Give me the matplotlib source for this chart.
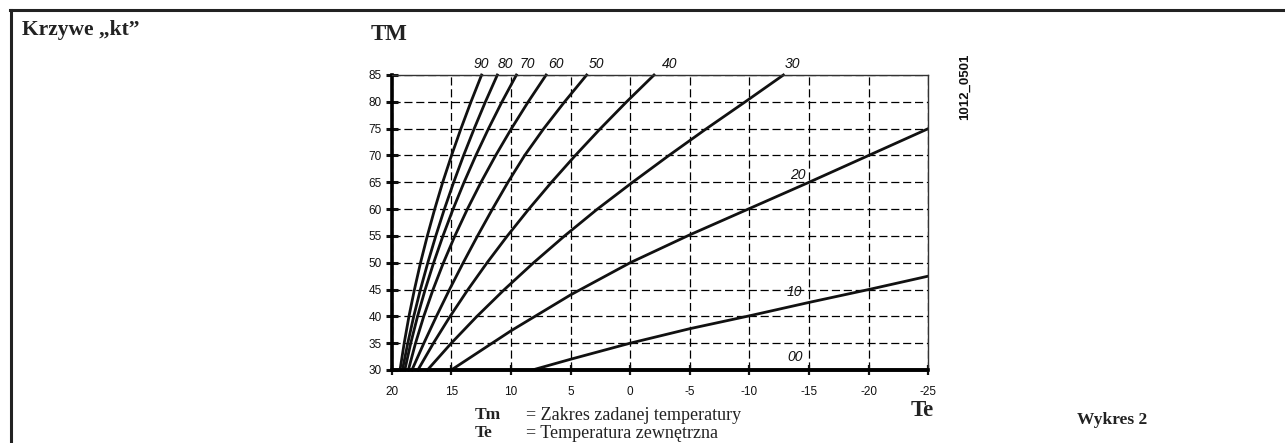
import matplotlib
matplotlib.use("Agg")
import matplotlib.pyplot as plt

# ---- data (Te, Tm) ----
kt_labels = ["00", "10", "20", "30", "40", "50", "60", "70", "80", "90"]
tm_levels = [30, 35, 40, 45, 50, 55, 60, 65, 70, 75, 80, 85]

te_00 = [20, -25]
tm_00 = [30, 30]

te_10 = [8.2, 5, 0, -5, -10, -15, -20, -25]
tm_10 = [30, 32.0, 35.0, 37.7, 40.1, 42.6, 45.0, 47.5]

te_20 = [15, 10, 5, 0, -5, -10, -15, -20, -25]
tm_20 = [30, 37.3, 44.0, 50.0, 55.2, 60.1, 65.0, 70.0, 75.0]

te_30 = [17.0, 15.0, 12.85, 10.55, 8.1, 5.5, 2.75, -0.2, -3.25, -6.4, -9.65, -12.85]
te_40 = [17.8, 16.5, 15.1, 13.6, 12.0, 10.3, 8.5, 6.6, 4.6, 2.5, 0.3, -2.0]
te_50 = [18.3, 17.3, 16.25, 15.15, 14.0, 12.8, 11.55, 10.25, 8.85, 7.25, 5.5, 3.65]
te_60 = [18.6, 18.0, 17.31, 16.53, 15.66, 14.70, 13.65, 12.51, 11.28, 9.96, 8.55, 7.05]
te_70 = [18.9, 18.4, 17.83, 17.19, 16.48, 15.70, 14.85, 13.93, 12.94, 11.88, 10.75, 9.54]
te_80 = [19.1, 18.65, 18.15, 17.59, 16.97, 16.30, 15.58, 14.80, 13.97, 13.08, 12.14, 11.14]
te_90 = [19.3, 18.95, 18.55, 18.09, 17.58, 17.01, 16.39, 15.72, 14.98, 14.19, 13.35, 12.46]

# label anchor positions (Te, Tm)
lab_te = [-13.8, -13.8, -14.1, -13.6, -3.3, 2.8, 6.25, 8.6, 10.45, 12.46]
lab_tm = [32.4, 44.6, 66.4, 87.1, 87.1, 87.1, 87.1, 87.1, 87.1, 87.1]

x_ticks = [20, 15, 10, 5, 0, -5, -10, -15, -20, -25]
y_ticks = [30, 35, 40, 45, 50, 55, 60, 65, 70, 75, 80, 85]

# ---- figure ----
fig = plt.figure(figsize=(12.85, 4.43), dpi=100)
ax = fig.add_axes([0.3048, 0.1648, 0.4176, 0.6659])

ax.set_xlim(20, -25)
ax.set_ylim(30, 85)
ax.set_xticks(x_ticks)
ax.set_yticks(y_ticks)
ax.set_xticklabels([str(v) for v in x_ticks], fontsize=8.5, family="Liberation Sans")
ax.set_yticklabels([str(v) for v in y_ticks], fontsize=8.5, family="Liberation Sans")

ax.grid(True, linestyle=(0, (6.5, 3)), color="black", linewidth=0.9)
ax.set_axisbelow(True)

lw = 2.0
ax.plot(te_00, tm_00, color="#111111", lw=2.6, solid_capstyle="butt", clip_on=False)
ax.plot(te_10, tm_10, color="#111111", lw=lw)
ax.plot(te_20, tm_20, color="#111111", lw=lw)
for te in (te_30, te_40, te_50, te_60, te_70, te_80, te_90):
    ax.plot(te, tm_levels, color="#111111", lw=lw, clip_on=False)

for lab, x, y in zip(kt_labels, lab_te, lab_tm):
    ax.text(x, y, lab, ha="center", va="center", fontsize=10, style="italic",
            family="Liberation Sans", color="#111111", clip_on=False)

for side in ("top", "right"):
    ax.spines[side].set_linewidth(1.0)
    ax.spines[side].set_color("#333333")
ax.spines["left"].set_linewidth(2.6)
ax.spines["bottom"].set_linewidth(2.6)
ax.tick_params(axis="y", direction="inout", length=8, width=2.2, pad=3, colors="#111111")
ax.tick_params(axis="x", direction="inout", length=7, width=1.6, pad=8, colors="#111111")

# ---- texts ----
serif = "Liberation Serif"
fig.text(22 / 1285, 1 - 30 / 443, "Krzywe „kt”", fontsize=15.5, fontweight="bold",
         family=serif, ha="left", va="center", color="#222222")
fig.text(371 / 1285, 1 - 34 / 443, "TM", fontsize=16.5, fontweight="bold",
         family=serif, ha="left", va="center", color="#222222")
fig.text(911 / 1285, 1 - 411 / 443, "Te", fontsize=16.5, fontweight="bold",
         family=serif, ha="left", va="center", color="#222222")
fig.text(475 / 1285, 1 - 415 / 443, "Tm", fontsize=12.5, fontweight="bold",
         family=serif, ha="left", va="center", color="#222222")
fig.text(526 / 1285, 1 - 415 / 443, "= Zakres zadanej temperatury", fontsize=13,
         family=serif, ha="left", va="center", color="#222222")
fig.text(475 / 1285, 1 - 433 / 443, "Te", fontsize=12.5, fontweight="bold",
         family=serif, ha="left", va="center", color="#222222")
fig.text(526 / 1285, 1 - 433 / 443, "= Temperatura zewnętrzna", fontsize=13,
         family=serif, ha="left", va="center", color="#222222")
fig.text(1112 / 1285, 1 - 420 / 443, "Wykres 2", fontsize=12.5, fontweight="bold",
         family=serif, ha="center", va="center", color="#222222")
fig.text(965 / 1285, 1 - 87 / 443, "1012_0501", fontsize=9.5, fontweight="bold",
         family="Liberation Sans", rotation=90, ha="center", va="center", color="#111111")

# frame: top line and left line
fig.add_artist(plt.Line2D([10 / 1285, 1.0], [1 - 10 / 443, 1 - 10 / 443],
                          transform=fig.transFigure, color="#222222", lw=2.2))
fig.add_artist(plt.Line2D([11 / 1285, 11 / 1285], [1 - 10 / 443, 0.0],
                          transform=fig.transFigure, color="#222222", lw=2.2))

fig.savefig("out.png", dpi=100)
